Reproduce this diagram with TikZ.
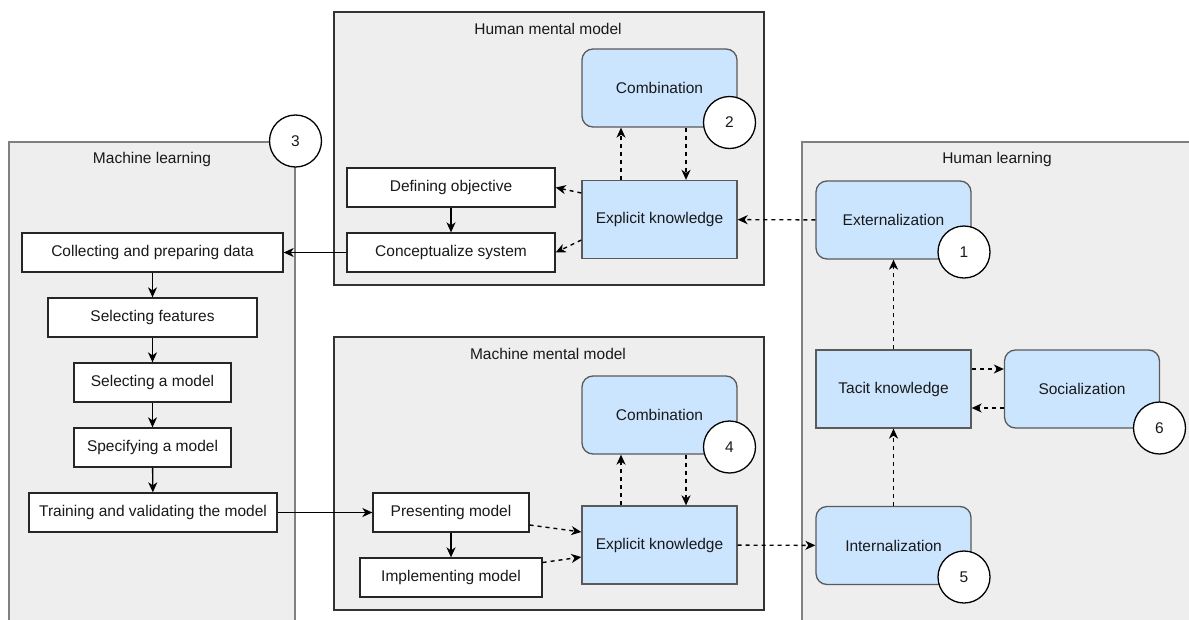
\documentclass[tikz,border=0pt]{standalone}
\usepackage{fontspec}
\setmainfont{Liberation Sans}
\usetikzlibrary{arrows.meta}
\definecolor{panelfill}{HTML}{EEEEEE}
\definecolor{darkedge}{HTML}{333333}
\definecolor{lightedge}{HTML}{808080}
\definecolor{bluefill}{HTML}{CCE5FF}
\definecolor{blueedge}{HTML}{5A5A5A}
\tikzset{
  every node/.style={font=\fontsize{15.5pt}{18pt}\selectfont, text=black!90},
  panel/.style={draw=#1, fill=panelfill, line width=1.4pt},
  stepbox/.style={draw=black!85, fill=white, line width=1.3pt, minimum height=39pt, inner sep=0pt},
  knowbox/.style={draw=blueedge, fill=bluefill, line width=1.3pt, minimum width=155pt, minimum height=78pt, inner sep=0pt},
  modebox/.style={knowbox, rounded corners=11pt},
  badge/.style={circle, draw=black, fill=white, line width=1.3pt, minimum size=52pt, inner sep=0pt},
  tip/.style={-{Stealth[length=10pt,width=9pt,inset=3pt]}},
  flow/.style={tip, line width=1.4pt, black},
  hint/.style={tip, line width=1.4pt, black, dash pattern=on 4pt off 4pt},
}
\begin{document}
\begin{tikzpicture}[x=1pt,y=-1pt]
\useasboundingbox (0,0) rectangle (1189,619);
\clip (0,0) rectangle (1189,619);

% group panels
\draw[panel=lightedge] (9,142) rectangle (295,640);
\draw[panel=darkedge] (334,12) rectangle (764,285);
\draw[panel=darkedge] (334,337) rectangle (764,610);
\draw[panel=lightedge] (802,142) rectangle (1200,640);

\node (tml) at (152,159) {Machine learning};
\node (thm) at (548,29) {Human mental model};
\node (tmm) at (548,354) {Machine mental model};
\node (thl) at (997,159) {Human learning};

% machine learning pipeline
\node[stepbox, minimum width=261pt] (collect) at (152.5,252.5) {Collecting and preparing data};
\node[stepbox, minimum width=209pt] (features) at (152.5,317.5) {Selecting features};
\node[stepbox, minimum width=157pt] (select) at (152.5,382.5) {Selecting a model};
\node[stepbox, minimum width=157pt] (specify) at (152.5,447.5) {Specifying a model};
\node[stepbox, minimum width=248pt] (train) at (153,512.5) {Training and validating the model};

% human mental model
\node[modebox] (comb1) at (659.5,88) {Combination};
\node[knowbox] (ek1) at (659.5,219.5) {Explicit knowledge};
\node[stepbox, minimum width=208pt] (objective) at (451,187.5) {Defining objective};
\node[stepbox, minimum width=208pt] (concept) at (451,252.5) {Conceptualize system};

% machine mental model
\node[modebox] (comb2) at (659.5,415) {Combination};
\node[knowbox] (ek2) at (659.5,545) {Explicit knowledge};
\node[stepbox, minimum width=156pt] (present) at (451,512.5) {Presenting model};
\node[stepbox, minimum width=182pt] (implement) at (451,577.5) {Implementing model};

% human learning
\node[modebox] (ext) at (893.5,220) {Externalization};
\node[knowbox] (tacit) at (893.5,389) {Tacit knowledge};
\node[modebox] (social) at (1082,389) {Socialization};
\node[modebox] (int) at (893.5,545.5) {Internalization};

% numbered badges
\node[badge] (b1) at (964,252) {1};
\node[badge] (b2) at (729.5,122.5) {2};
\node[badge] (b3) at (295.5,141) {3};
\node[badge] (b4) at (729.5,447) {4};
\node[badge] (b5) at (964,577) {5};
\node[badge] (b6) at (1159.5,428) {6};

% solid flow
\draw[flow] (collect) -- (features);
\draw[flow] (features) -- (select);
\draw[flow] (select) -- (specify);
\draw[flow] (specify) -- (train);
\draw[flow] (objective) -- (concept);
\draw[flow] (concept) -- (collect);
\draw[flow] (train) -- (present);
\draw[flow] (present) -- (implement);

% knowledge conversion (dashed)
\draw[hint] ([xshift=-38.5pt]ek1.north) -- ([xshift=-38.5pt]comb1.south);
\draw[hint] ([xshift=26.5pt]comb1.south) -- ([xshift=26.5pt]ek1.north);
\draw[hint] ([yshift=26.5pt]ek1.west) -- (objective.east);
\draw[hint] ([yshift=-20.5pt]ek1.west) -- (concept.east);
\draw[hint] (ext) -- (ek1);

\draw[hint] ([xshift=-38.5pt]ek2.north) -- ([xshift=-38.5pt]comb2.south);
\draw[hint] ([xshift=26.5pt]comb2.south) -- ([xshift=26.5pt]ek2.north);
\draw[hint] ([yshift=-12.5pt]present.east) -- ([yshift=13pt]ek2.west);
\draw[hint] ([yshift=15pt]implement.east) -- ([yshift=-12pt]ek2.west);
\draw[hint] (ek2) -- (int);

\draw[hint] (tacit) -- (ext);
\draw[hint] (int) -- (tacit);
\draw[hint] ([yshift=20pt]tacit.east) -- ([yshift=20pt]social.west);
\draw[hint] ([yshift=-19pt]social.west) -- ([yshift=-19pt]tacit.east);
\end{tikzpicture}
\end{document}
